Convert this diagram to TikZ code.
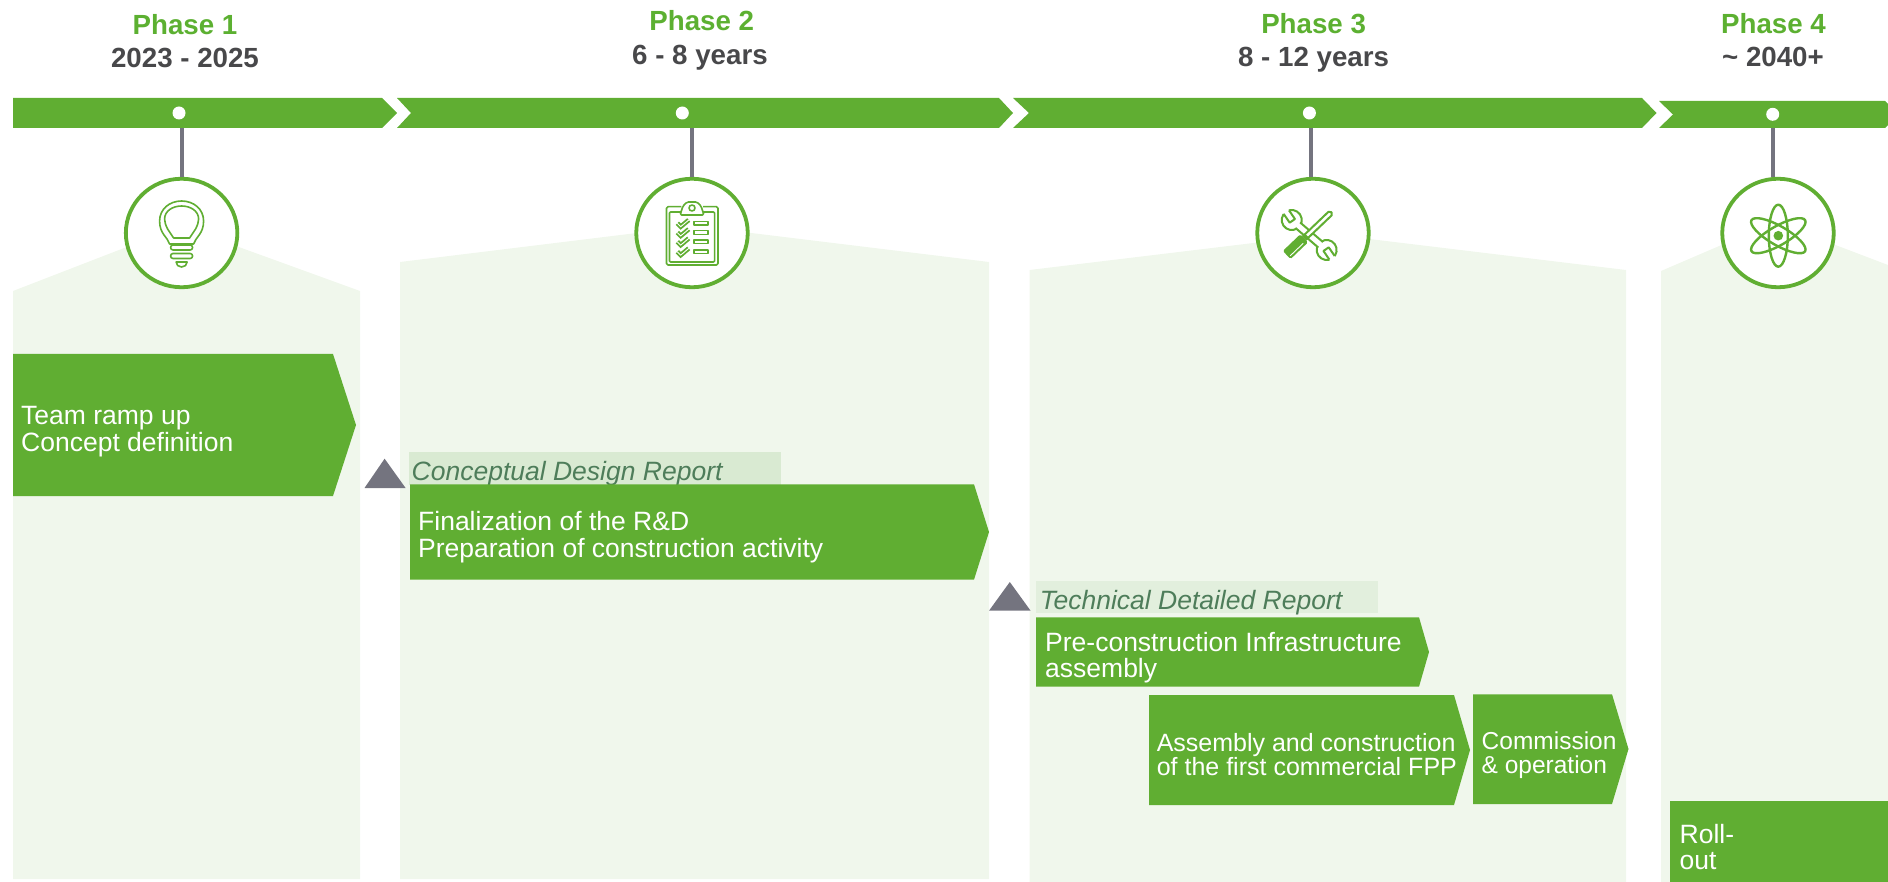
\documentclass[tikz,border=0pt]{standalone}
\usepackage{fontspec}
\usetikzlibrary{shapes.geometric}
\setmainfont{Liberation Sans}
\definecolor{leaf}{HTML}{60AE32}
\definecolor{headleaf}{HTML}{5CB031}
\definecolor{pale}{HTML}{F0F7EC}
\definecolor{steel}{HTML}{74747F}
\definecolor{ink}{HTML}{48484A}
\definecolor{reportbg}{HTML}{D9EAD2}
\definecolor{reportbgtwo}{HTML}{E2EFDD}
\definecolor{reportink}{HTML}{4E7D5A}
\tikzset{
	headgreen/.style={anchor=base, inner sep=0pt, text=headleaf, font=\fontsize{27.7}{27.7}\selectfont\bfseries},
	headgray/.style={anchor=base, inner sep=0pt, text=ink, font=\fontsize{27.7}{27.7}\selectfont\bfseries},
	bardot/.style={circle, fill=white, inner sep=0pt, minimum size=13pt},
	iconring/.style={ellipse, draw=leaf, fill=white, line width=3.8pt, inner sep=0pt, minimum width=111.5pt, minimum height=108.5pt},
	stemline/.style={draw=steel, line width=4pt},
	blocktext/.style={anchor=base west, align=left, inner sep=0pt, text=white, font=\fontsize{26.5}{26.6}\selectfont},
	smalltext/.style={anchor=base west, align=left, inner sep=0pt, text=white, font=\fontsize{25}{24}\selectfont},
	commtext/.style={anchor=base west, align=left, inner sep=0pt, text=white, font=\fontsize{24.5}{23.4}\selectfont},
	reporttext/.style={anchor=base west, inner sep=0pt, text=reportink, font=\fontsize{26.5}{26.5}\selectfont\itshape},
	iconline/.style={draw=leaf, line width=1.6pt, line join=round},
}
\begin{document}
\begin{tikzpicture}[x=1pt, y=-1pt]
	\useasboundingbox (0,0) rectangle (1888,882);

	\fill[pale] (13,291) -- (181,226) -- (360,291) -- (360,879) -- (13,879) -- cycle;
	\fill[pale] (400,262) -- (694,226) -- (989,262) -- (989,879) -- (400,879) -- cycle;
	\fill[pale] (1029.5,270) -- (1328,234) -- (1626,270) -- (1626,882) -- (1029.5,882) -- cycle;
	\fill[pale] (1661,271) -- (1775,222) -- (1888,265) -- (1888,882) -- (1661,882) -- cycle;

	\fill[leaf] (13,98) -- (382,98) -- (397,113) -- (382,128) -- (13,128) -- cycle;
	\fill[leaf] (397,98) -- (999,98) -- (1013,113) -- (999,128) -- (397,128) -- (411,113) -- cycle;
	\fill[leaf] (1013,98) -- (1642,98) -- (1656.5,113) -- (1642,128) -- (1013,128) -- (1029,113) -- cycle;
	\fill[leaf] (1659,101) -- (1885,101) -- (1888,104) -- (1888,125) -- (1885,128) -- (1659,128) -- (1673,114.5) -- cycle;

	\node(dot-1)[bardot] at (179,113) {};
	\node(dot-2)[bardot] at (682.3,113) {};
	\node(dot-3)[bardot] at (1309.4,113) {};
	\node(dot-4)[bardot] at (1772.7,114.3) {};

	\node(phase-1)[headgreen] at (185,34.5) {Phase 1};
	\node(date-1)[headgray] at (185,68) {2023 - 2025};
	\node(phase-2)[headgreen] at (701.7,31) {Phase 2};
	\node(date-2)[headgray] at (700,65) {6 - 8 years};
	\node(phase-3)[headgreen] at (1313.6,34) {Phase 3};
	\node(date-3)[headgray] at (1313.6,67) {8 - 12 years};
	\node(phase-4)[headgreen] at (1773.5,34) {Phase 4};
	\node(date-4)[headgray] at (1773,67) {\textasciitilde{} 2040+};

	\node(icon-1)[iconring] at (181.6,233) {};
	\node(icon-2)[iconring] at (692,233) {};
	\node(icon-3)[iconring] at (1313,233) {};
	\node(icon-4)[iconring] at (1778,233) {};

	\coordinate(stem-1) at (181.6,128);
	\coordinate(stem-2) at (692,128);
	\coordinate(stem-3) at (1311,128);
	\coordinate(stem-4) at (1772.7,128);
	\draw[stemline] (stem-1) -- (stem-1 |- icon-1.north);
	\draw[stemline] (stem-2) -- (stem-2 |- icon-2.north);
	\draw[stemline] (stem-3) -- (stem-3 |- icon-3.north);
	\draw[stemline] (stem-4) -- (stem-4 |- icon-4.north);

	\begin{scope}[shift={(181.6,232)}]
		\draw[iconline] (-12,12) .. controls (-14,5) and (-22,2) .. (-22,-11) .. controls (-22,-23) and (-12,-31) .. (0,-31) .. controls (12,-31) and (22,-23) .. (22,-11) .. controls (22,2) and (14,5) .. (12,12) -- cycle;
		\draw[iconline] (-8,6) -- (8,6) -- (14,-3) .. controls (16,-7) and (17,-10) .. (17,-13) .. controls (17,-21) and (9,-26) .. (0,-26) .. controls (-9,-26) and (-17,-21) .. (-17,-13) .. controls (-17,-10) and (-16,-7) .. (-14,-3) -- cycle;
		\draw[iconline, rounded corners=2.4pt] (-11,13) rectangle (11,18);
		\draw[iconline, rounded corners=2.4pt] (-11,21.5) rectangle (11,26.5);
		\draw[iconline] (-5.5,30) -- (5.5,30) .. controls (5.5,33) and (3,35) .. (0,35) .. controls (-3,35) and (-5.5,33) .. (-5.5,30) -- cycle;
	\end{scope}

	\begin{scope}[shift={(692,232)}]
		\draw[iconline, rounded corners=1.5pt] (-10.6,-25.3) -- (-25.5,-25.3) -- (-25.5,33) -- (26,33) -- (26,-25.3) -- (11,-25.3);
		\draw[iconline, rounded corners=1pt] (-10.6,-20) -- (-22.5,-20) -- (-22.5,30) -- (22.6,30) -- (22.6,-20) -- (11,-20);
		\draw[iconline, rounded corners=1.5pt] (-12,-17) -- (-9,-26) -- (-5,-30) -- (5,-30) -- (9,-26) -- (12,-17) -- cycle;
		\draw[iconline] (0,-24) circle (3);
		\foreach \ypos in {-8.7,0.5,9.7,19.7} {
			\draw[draw=leaf, line width=4.6pt] (-14.7,\ypos) -- (-11.3,\ypos+3.4) -- (-3.3,\ypos-3.3);
			\draw[draw=white, line width=0.9pt] (-14.7,\ypos) -- (-11.3,\ypos+3.4) -- (-3.3,\ypos-3.3);
			\draw[iconline] (1.7,\ypos-1.8) rectangle (16,\ypos+2);
		}
	\end{scope}

	\begin{scope}[shift={(1309.2,235)}, rotate=-40.6, iconline/.append style={line width=2pt}]
		\begin{scope}[shift={(23,0)}, rotate=-15]
			\draw[iconline] (0,0) circle (10);
			\fill[white] (-1,-3.2) rectangle (12,3.2);
			\draw[iconline] (9.5,-3.2) -- (-1,-3.2) -- (-1,3.2) -- (9.5,3.2);
		\end{scope}
		\begin{scope}[shift={(-23,0)}, rotate=165]
			\draw[iconline] (0,0) circle (10);
			\fill[white] (-1,-3.2) rectangle (12,3.2);
			\draw[iconline] (9.5,-3.2) -- (-1,-3.2) -- (-1,3.2) -- (9.5,3.2);
		\end{scope}
		\fill[white] (-15,-3.6) rectangle (15,3.6);
		\draw[iconline] (-15,-3.6) -- (15,-3.6);
		\draw[iconline] (-15,3.6) -- (15,3.6);
	\end{scope}
	\begin{scope}[shift={(1286.7,255)}, rotate=43.7, iconline/.append style={line width=2pt}]
		\draw[iconline, fill=white] (26,-2.4) -- (54,-2.4) -- (60,-2.4) -- (62,0) -- (60,2.4) -- (54,2.4) -- (26,2.4) -- cycle;
		\fill[leaf, rounded corners=1.5pt] (0,-5.6) rectangle (24,5.6);
		\fill[leaf] (24,-3.2) rectangle (28,3.2);
		\draw[draw=white, line width=0.9pt] (2,3) -- (20,3);
	\end{scope}

	\begin{scope}[shift={(1778.3,235.7)}]
		\draw[iconline, line width=2.4pt] (0,0) ellipse (9.5 and 31);
		\draw[iconline, line width=2.4pt, rotate=60] (0,0) ellipse (9.5 and 31);
		\draw[iconline, line width=2.4pt, rotate=-60] (0,0) ellipse (9.5 and 31);
		\fill[leaf] (0,0) circle (4.8);
	\end{scope}

	\fill[leaf] (13,354) -- (333,354) -- (356,425) -- (333,496) -- (13,496) -- cycle;
	\node(team-text)[blocktext] at (21,451) {Team ramp up\\Concept definition};

	\fill[steel] (364.5,488) -- (384.6,458.7) -- (405.6,488) -- cycle;
	\fill[reportbg] (409,452) rectangle (781,484.7);
	\node(report-1)[reporttext] at (411.5,480.5) {Conceptual Design Report};
	\fill[leaf] (410,484.3) -- (974,484.3) -- (989,532) -- (974,579.7) -- (410,579.7) -- cycle;
	\node(design-text)[blocktext] at (418,557.2) {Finalization of the R\&D\\Preparation of construction activity};

	\fill[steel] (989,610.7) -- (1009.8,582) -- (1030.6,610.7) -- cycle;
	\fill[reportbgtwo] (1036,581) rectangle (1378,613);
	\node(report-2)[reporttext] at (1039.6,609) {Technical Detailed Report};
	\fill[leaf] (1036,617.3) -- (1419,617.3) -- (1429,652) -- (1419,686.7) -- (1036,686.7) -- cycle;
	\node(infra-text)[blocktext] at (1045,677.8) {Pre-construction Infrastructure\\assembly};
	\fill[leaf] (1149,695) -- (1454,695) -- (1470,750) -- (1454,805) -- (1149,805) -- cycle;
	\node(fpp-text)[smalltext] at (1156.6,775) {Assembly and construction\\of the first commercial FPP};
	\fill[leaf] (1473,694.3) -- (1612,694.3) -- (1628.5,749) -- (1612,804) -- (1473,804) -- cycle;
	\node(comm-text)[commtext] at (1481.5,773) {Commission\\\& operation};

	\fill[leaf] (1670,801) rectangle (1888,882);
	\node(roll-text)[blocktext] at (1679.5,869.7) {Roll-\\out};
\end{tikzpicture}
\end{document}
